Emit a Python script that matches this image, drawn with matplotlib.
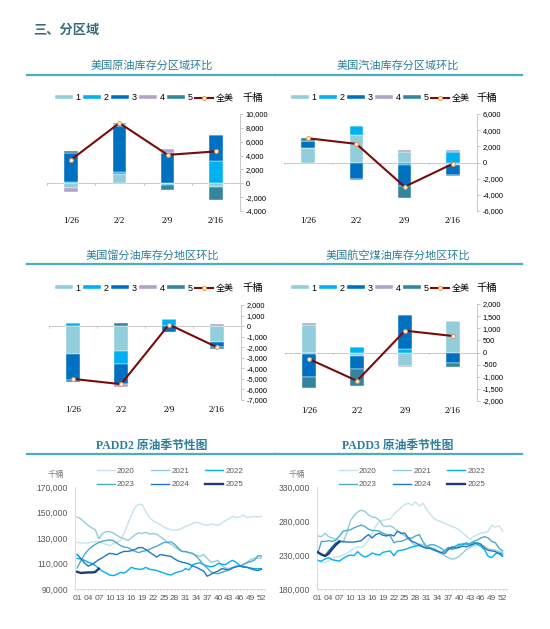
import numpy as np
import matplotlib.pyplot as plt
from matplotlib.lines import Line2D
from matplotlib.ticker import FuncFormatter, MultipleLocator

plt.rcParams['font.family'] = ['Liberation Sans', 'Noto Sans CJK SC', 'DejaVu Sans']

W, H = 550, 629

# ---- weekly change by region (thousand barrels) ----
dates = ['1/26', '2/2', '2/9', '2/16']
regions = ['1', '2', '3', '4', '5']
total_label = '全美'
unit = '千桶'

crude_regions = [[-700, 1400, -100, -500],
                 [200, 200, -200, 3200],
                 [4100, 6600, 4400, 3700],
                 [-600, 300, 500, 0],
                 [300, 200, -700, -1900]]
crude_total = [3400, 8700, 4100, 4600]

gasoline_regions = [[1800, 3400, 1300, -300],
                    [0, 1100, -300, 1300],
                    [900, -2000, -2600, -1200],
                    [0, 0, 200, 200],
                    [300, -200, -1500, -200]]
gasoline_total = [3000, 2300, -3000, -150]

distillate_regions = [[-2600, -2400, 0, -1500],
                      [300, -1200, 700, 0],
                      [-2500, -1900, -600, -500],
                      [0, -300, 0, 200],
                      [-200, 300, 0, -200]]
distillate_total = [-5000, -5500, 150, -2000]

jet_regions = [[1150, -150, -550, 1300],
               [-50, 230, 150, 0],
               [-950, -550, 1400, -450],
               [50, 0, -50, 0],
               [-450, -700, 0, -150]]
jet_total = [-270, -1170, 900, 680]

# ---- seasonal stocks (thousand barrels, week 1..52) ----
years = ['2020', '2021', '2022', '2023', '2024', '2025']

padd2_2020 = [126.5, 126.3, 126.0, 126.2, 126.8, 127.2, 127.0, 126.0, 125.0, 124.0,
              125.5, 126.5, 128.0, 134.0, 141.0, 148.0, 154.0, 156.5, 156.0, 151.0,
              146.0, 143.5, 142.0, 140.5, 138.5, 137.5, 136.5, 136.0, 136.5, 137.5,
              139.0, 140.0, 141.5, 142.5, 141.5, 140.5, 140.0, 141.0, 140.5, 140.0,
              141.5, 143.5, 145.0, 147.0, 146.0, 146.5, 148.0, 146.0, 146.5, 147.0,
              146.5, 147.0]
padd2_2021 = [146.5, 145.0, 142.5, 140.0, 138.0, 136.5, 129.5, 133.5, 135.0, 135.0,
              134.0, 132.0, 130.5, 129.5, 128.0, 130.0, 132.5, 134.0, 133.5, 134.5,
              133.0, 133.5, 133.0, 131.0, 129.0, 126.5, 125.0, 123.0, 121.0, 119.5,
              119.0, 118.5, 117.5, 116.5, 115.5, 117.0, 114.0, 111.0, 111.5, 112.5,
              108.5, 106.5, 106.0, 107.0, 108.0, 108.0, 109.5, 111.0, 113.0, 114.0,
              114.0, 114.5]
padd2_2022 = [114.0, 113.5, 112.5, 111.0, 110.0, 108.5, 106.0, 104.0, 102.5, 101.0,
              100.5, 101.5, 103.0, 102.5, 104.5, 107.0, 106.0, 105.5, 105.5, 107.0,
              105.5, 105.0, 104.5, 103.5, 102.5, 101.5, 101.0, 102.5, 103.5, 104.0,
              106.0, 105.0, 109.0, 110.0, 110.5, 109.0, 108.0, 107.5, 108.0, 110.0,
              109.5, 109.0, 111.0, 112.5, 111.0, 108.5, 107.0, 107.0, 106.5, 106.0,
              106.0, 106.0]
padd2_2023 = [106.5, 112.0, 117.0, 120.5, 123.0, 125.0, 126.5, 127.5, 128.0, 128.5,
              128.0, 126.0, 124.0, 123.0, 122.5, 121.0, 119.5, 118.5, 119.5, 120.0,
              121.0, 122.5, 123.5, 125.0, 126.5, 126.5, 127.0, 125.0, 122.0, 119.5,
              119.5, 118.5, 118.0, 115.5, 112.5, 109.0, 106.5, 103.5, 102.5, 102.0,
              103.0, 104.0, 105.0, 106.5, 107.5, 108.0, 109.0, 110.5, 111.5, 112.5,
              116.0, 116.0]
padd2_2024 = [117.0, 114.0, 110.5, 108.0, 109.0, 111.0, 113.0, 114.5, 116.5, 118.0,
              117.5, 117.0, 118.5, 119.5, 119.5, 120.0, 121.0, 122.5, 122.5, 121.0,
              119.0, 117.0, 115.0, 117.0, 116.5, 116.0, 115.5, 113.5, 112.0, 111.0,
              110.5, 109.5, 108.0, 107.0, 105.5, 104.0, 100.0, 101.5, 103.0, 104.0,
              106.0, 105.5, 105.0, 106.5, 107.5, 108.0, 107.5, 107.0, 106.0, 105.0,
              104.5, 105.5]
padd2_2025 = [103.5, 102.6, 102.8, 103.0, 103.0, 103.3, 106.0]

padd3_2020 = [222, 219, 219, 221, 225, 227, 228, 230, 232, 236,
              240, 242, 241, 245, 252, 262, 272, 280, 281, 282,
              283, 290, 295, 300, 304, 306, 303, 308, 302, 306,
              298, 290, 284, 281, 279, 277, 274, 272, 270, 267,
              262, 258, 253, 257, 260, 262, 263, 265, 274, 271,
              273, 265]
padd3_2021 = [258, 257, 262, 257, 255, 253, 251, 248, 262, 280,
              288, 293, 296, 294, 289, 286, 285, 281, 273, 272,
              273, 270, 265, 262, 258, 253, 248, 244, 246, 245,
              243, 241, 240, 236, 232, 229, 226, 224, 225, 228,
              233, 238, 241, 244, 245, 244, 243, 239, 238, 237,
              235, 233]
padd3_2022 = [222, 221, 224, 226, 223, 222, 221, 225, 228, 230,
              229, 235, 230, 227, 229, 233, 231, 230, 234, 235,
              236, 229, 236, 237, 238, 240, 242, 243, 244, 242,
              240, 240, 237, 235, 233, 236, 241, 240, 243, 246,
              245, 248, 244, 249, 246, 243, 238, 228, 226, 232,
              233, 231]
padd3_2023 = [232, 250, 250, 251, 250, 252, 258, 265, 266, 267,
              270, 272, 274, 272, 268, 266, 266, 265, 262, 260,
              258, 248, 250, 250, 252, 255, 255, 258, 260, 250,
              242, 245, 245, 243, 240, 236, 240, 238, 240, 243,
              247, 245, 247, 250, 252, 255, 257, 255, 250, 248,
              240, 236]
padd3_2024 = [235, 230, 229, 236, 242, 248, 250, 250, 249, 249,
              249, 250, 251, 256, 260, 255, 260, 262, 259, 258,
              260, 258, 265, 262, 262, 255, 250, 248, 245, 242,
              240, 240, 238, 236, 234, 232, 238, 242, 240, 241,
              243, 242, 244, 246, 248, 246, 240, 237, 236, 235,
              232, 228]
padd3_2025 = [234, 231, 228.5, 232, 239, 245, 249.5]

bar_colors = ['#92CDDC', '#00B0F0', '#0070C0', '#B3A2C7', '#31859C']
year_colors = ['#C5E3EC', '#92CDDC', '#00B0F0', '#4BACC6', '#1F78C8', '#1F3C78']
title_color = '#2C7F97'
rule_color = '#4BACC6'

fig = plt.figure(figsize=(W / 100, H / 100), dpi=100)


def rect(l, t, r, b):
    return [l / W, 1 - b / H, (r - l) / W, (b - t) / H]


def header(cx, y, text, x0, x1, bold=False):
    if bold:
        fig.text(cx / W, 1 - y / H, text, ha='center', va='center', fontsize=8.5,
                 color=title_color, fontweight='bold',
                 family=['Liberation Serif', 'Noto Sans CJK SC'])
        ry = y + 8
    else:
        fig.text(cx / W, 1 - y / H, text, ha='center', va='center', fontsize=8,
                 color=title_color)
        ry = y + 9
    fig.add_artist(Line2D([x0 / W, x1 / W], [1 - ry / H, 1 - ry / H],
                          color=rule_color, lw=1.6))


def bar_panel(box, parts, total, ylim, step, leg_cx, leg_y, unit_x):
    ax = fig.add_axes(rect(*box))
    x = np.arange(len(dates))
    pos = np.zeros(len(dates))
    neg = np.zeros(len(dates))
    handles = []
    for name, vals, c in zip(regions, parts, bar_colors):
        vals = np.array(vals, float)
        bottom = np.where(vals >= 0, pos, neg)
        h = ax.bar(x, vals, 0.28, bottom=bottom, color=c, label=name,
                   edgecolor='white', linewidth=0.3, zorder=2)
        handles.append(h)
        pos += np.clip(vals, 0, None)
        neg += np.clip(vals, None, 0)
    ln, = ax.plot(x, total, color='#7B0A0A', lw=1.5, marker='o', ms=2.8,
                  mfc='white', mec='#F0903C', mew=0.7, label=total_label, zorder=3)
    handles.append(ln)
    ax.set_xlim(-0.5, len(dates) - 0.5)
    ax.set_ylim(*ylim)
    ax.set_yticks(np.arange(ylim[0], ylim[1] + 1, step))
    ax.yaxis.tick_right()
    ax.yaxis.set_major_formatter(FuncFormatter(lambda v, p: f'{v:,.0f}'))
    for s in ['top', 'left', 'bottom']:
        ax.spines[s].set_visible(False)
    ax.spines['right'].set_color('#BFBFBF')
    ax.spines['right'].set_linewidth(0.6)
    ax.tick_params(axis='y', length=2, width=0.6, color='#BFBFBF', labelsize=5.3, pad=2)
    ax.set_xticks(x, dates)
    ax.tick_params(axis='x', length=0, pad=4.5)
    for lab in ax.get_xticklabels():
        lab.set_family('Liberation Serif')
        lab.set_fontsize(6.5)
    ax.axhline(0, color='#BFBFBF', lw=0.6, zorder=1)
    tick = (ylim[1] - ylim[0]) * 0.015
    for bnd in np.arange(-0.5, len(dates), 1.0):
        ax.plot([bnd, bnd], [0, -tick], color='#BFBFBF', lw=0.6, zorder=1)
    ax.legend(handles=handles, ncol=6, loc='center',
              bbox_to_anchor=(leg_cx / W, 1 - leg_y / H),
              bbox_transform=fig.transFigure, frameon=False, fontsize=6.5,
              handlelength=2.0, handleheight=0.35, handletextpad=0.3,
              columnspacing=0.25, borderpad=0, borderaxespad=0)
    fig.text(unit_x / W, 1 - leg_y / H, unit, ha='center', va='center', fontsize=7.5)
    return ax


def season_panel(box, series, ylim, ystep, xlim, leg_cx, unit_x):
    ax = fig.add_axes(rect(*box))
    handles = []
    for i, (yr, vals) in enumerate(zip(years, series)):
        wk = np.arange(1, len(vals) + 1)
        h, = ax.plot(wk, np.array(vals) * 1000, color=year_colors[i],
                     lw=1.7 if yr == '2025' else 1.0, label=yr,
                     zorder=3 if yr == '2025' else 2)
        handles.append(h)
    ax.set_xlim(*xlim)
    ax.set_ylim(*ylim)
    ax.set_yticks(np.arange(ylim[0], ylim[1] + 1, ystep))
    ax.yaxis.set_major_formatter(FuncFormatter(lambda v, p: f'{v:,.0f}'))
    wticks = np.arange(1, 53, 3)
    ax.set_xticks(wticks, [f'{w:02d}' for w in wticks])
    ax.xaxis.set_minor_locator(MultipleLocator(1))
    for s in ['top', 'right']:
        ax.spines[s].set_visible(False)
    for s in ['left', 'bottom']:
        ax.spines[s].set_color('#D9D9D9')
        ax.spines[s].set_linewidth(0.7)
    ax.tick_params(axis='y', length=0, labelsize=6.2, labelcolor='#595959', pad=5)
    ax.tick_params(axis='x', which='both', length=1.5, width=0.5, color='#D9D9D9',
                   labelsize=6.0, labelcolor='#595959', pad=3)
    # legend reads row-wise: 2020 2021 2022 / 2023 2024 2025
    order = [0, 3, 1, 4, 2, 5]
    ax.legend(handles=[handles[k] for k in order], ncol=3, loc='center',
              bbox_to_anchor=(leg_cx / W, 1 - 478 / H),
              bbox_transform=fig.transFigure, frameon=False, fontsize=5.8,
              labelcolor='#595959', handlelength=2.2, handletextpad=0.3,
              columnspacing=2.0, labelspacing=0.7, borderpad=0, borderaxespad=0)
    fig.text(unit_x / W, 1 - 475 / H, unit, ha='center', va='center',
             fontsize=6, color='#7F7F7F')
    return ax


fig.text(33 / W, 1 - 31 / H, '三、分区域', ha='left', va='center', fontsize=9.5,
         fontweight='bold', color='#3A6A7C')

header(152, 66, '美国原油库存分区域环比', 27, 275)
header(398, 66, '美国汽油库存分区域环比', 275, 522)
header(152, 255, '美国馏分油库存分地区环比', 27, 275)
header(398, 255, '美国航空煤油库存分地区环比', 275, 522)
header(152, 446, 'PADD2 原油季节性图', 27, 275, bold=True)
header(398, 446, 'PADD3 原油季节性图', 275, 522, bold=True)

bar_panel((47, 114, 240, 211), crude_regions, crude_total, (-4000, 10000), 2000, 144, 98, 253)
bar_panel((284, 114, 477, 211), gasoline_regions, gasoline_total, (-6000, 6000), 2000, 380, 98, 487)
bar_panel((49, 305, 241, 400), distillate_regions, distillate_total, (-7000, 2000), 1000, 144, 288, 253)
bar_panel((285, 304, 477, 401), jet_regions, jet_total, (-2000, 2000), 500, 380, 288, 487)

season_panel((75, 487, 265, 589),
             [padd2_2020, padd2_2021, padd2_2022, padd2_2023, padd2_2024, padd2_2025],
             (90000, 170000), 20000, (0.4, 53.0), 170, 56)
season_panel((317, 487, 507, 589),
             [padd3_2020, padd3_2021, padd3_2022, padd3_2023, padd3_2024, padd3_2025],
             (180000, 330000), 50000, (0.8, 53.2), 412, 297)

fig.savefig('out.png', dpi=100)
